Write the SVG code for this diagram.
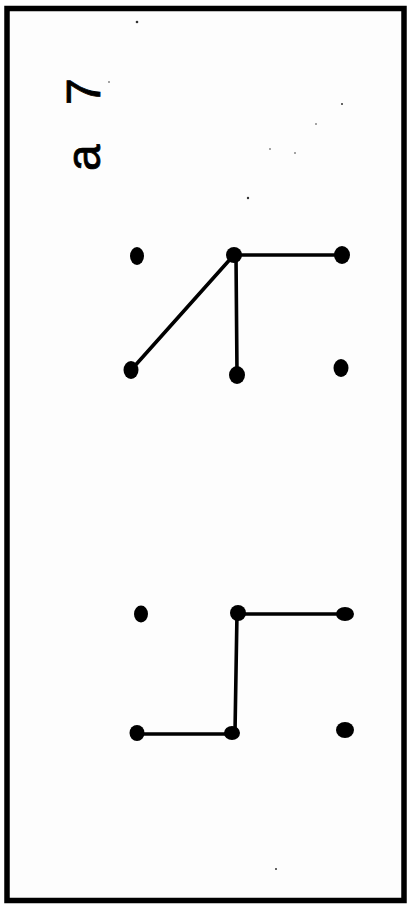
<svg xmlns="http://www.w3.org/2000/svg" width="409" height="909" viewBox="0 0 409 909">
<style>
.frame{fill:#fdfdfd;stroke:#000;stroke-width:5.5}
.dot{fill:#000}
.ln{stroke:#000;stroke-width:3.6;stroke-linecap:round;fill:none}
.lbl{font-family:"Liberation Sans",Arial,sans-serif;font-size:48px;fill:#000;stroke:#000;stroke-width:0.8}
.speck{fill:#333}
</style>
<rect width="409" height="909" fill="#fff"/>
<rect class="frame" x="7" y="8.5" width="397" height="892"/>
<g id="label">
<text class="lbl" transform="translate(100,171) rotate(-90)" word-spacing="26">a 7</text>
</g>
<g id="specks">
<circle class="speck" cx="137" cy="22" r="1.3"/>
<circle class="speck" cx="109" cy="82" r="0.8"/>
<circle class="speck" cx="342" cy="104" r="1"/>
<circle class="speck" cx="316" cy="124" r="0.8"/>
<circle class="speck" cx="295" cy="153" r="0.8"/>
<circle class="speck" cx="270" cy="149" r="0.8"/>
<circle class="speck" cx="248" cy="198" r="1.2"/>
<circle class="speck" cx="276" cy="869" r="1"/>
</g>
<g id="connectors">
<line class="ln" x1="234" y1="255" x2="342" y2="255"/>
<line class="ln" x1="233" y1="256" x2="132" y2="369"/>
<line class="ln" x1="236" y1="256" x2="237" y2="374"/>
<line class="ln" x1="238" y1="614" x2="346" y2="614"/>
<line class="ln" x1="237" y1="613" x2="235" y2="732"/>
<line class="ln" x1="137" y1="734" x2="233" y2="734"/>
</g>
<g id="top-group">
<ellipse id="t1" class="dot" cx="137" cy="256" rx="7" ry="9"/>
<ellipse id="t2" class="dot" cx="234" cy="255" rx="8" ry="8"/>
<ellipse id="t3" class="dot" cx="342" cy="255" rx="8" ry="9"/>
<ellipse id="t4" class="dot" cx="131" cy="370" rx="7.5" ry="9"/>
<ellipse id="t5" class="dot" cx="237" cy="375" rx="8" ry="9"/>
<ellipse id="t6" class="dot" cx="341" cy="368" rx="7.5" ry="9"/>
</g>
<g id="bottom-group">
<ellipse id="b1" class="dot" cx="141" cy="614" rx="7" ry="8.5"/>
<ellipse id="b2" class="dot" cx="238" cy="613" rx="8" ry="8"/>
<ellipse id="b3" class="dot" cx="345" cy="614" rx="9" ry="7"/>
<ellipse id="b4" class="dot" cx="137" cy="733" rx="7.5" ry="8"/>
<ellipse id="b5" class="dot" cx="232" cy="733" rx="8" ry="7"/>
<ellipse id="b6" class="dot" cx="345" cy="730" rx="9" ry="8"/>
</g>
</svg>
